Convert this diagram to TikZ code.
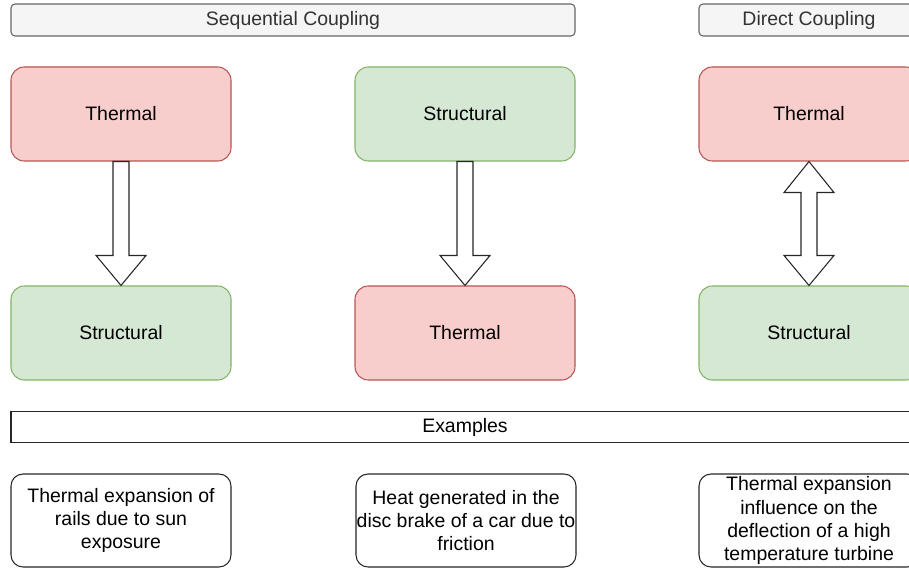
\documentclass[tikz,border=0pt]{standalone}
\usepackage{fontspec}
\setmainfont{Liberation Sans}
\usetikzlibrary{calc}
\definecolor{redfill}{HTML}{F8CECC}
\definecolor{redline}{HTML}{B85450}
\definecolor{greenfill}{HTML}{D5E8D4}
\definecolor{greenline}{HTML}{82B366}
\definecolor{greyfill}{HTML}{F5F5F5}
\definecolor{greyline}{HTML}{666666}
\definecolor{greytext}{HTML}{333333}
\begin{document}
\begin{tikzpicture}[x=0.75pt,y=-0.75pt,
  every node/.style={font=\fontsize{14.6}{17.3}\selectfont, inner sep=0pt, align=center},
  header/.style={draw=greyline, fill=greyfill, text=greytext, rounded corners=3pt,
    line width=0.8pt, minimum width=#1, minimum height=24pt},
  thermalbox/.style={draw=redline, fill=redfill, rounded corners=10pt, line width=0.8pt,
    minimum width=165pt, minimum height=70.5pt},
  structbox/.style={draw=greenline, fill=greenfill, rounded corners=10pt, line width=0.8pt,
    minimum width=165pt, minimum height=70.5pt},
  examplebox/.style={draw=black!85, fill=white, rounded corners=9pt, line width=0.8pt,
    minimum width=165pt, minimum height=69.75pt},
  blockarrow/.style={draw=black!85, fill=white, line width=0.8pt, line join=miter}]
\useasboundingbox (0,0) rectangle (909,570);

% column headers
\node[header=423pt] (seq) at (293,20) {Sequential Coupling};
\node[header=165pt] (dir) at (809,20) {Direct Coupling};

% physics boxes
\node[thermalbox] (t1) at (121,114) {Thermal};
\node[structbox]  (s1) at (121,333) {Structural};
\node[structbox]  (s2) at (465,114) {Structural};
\node[thermalbox] (t2) at (465,333) {Thermal};
\node[thermalbox] (t3) at (809,114) {Thermal};
\node[structbox]  (s3) at (809,333) {Structural};

% one-way block arrows
\draw[blockarrow] ($(t1.south)+(-8,0)$) -- ($(s1.north)+(-8,-30)$) -- ($(s1.north)+(-25,-30)$)
  -- (s1.north) -- ($(s1.north)+(25,-30)$) -- ($(s1.north)+(8,-30)$) -- ($(t1.south)+(8,0)$) -- cycle;
\draw[blockarrow] ($(s2.south)+(-8,0)$) -- ($(t2.north)+(-8,-30)$) -- ($(t2.north)+(-25,-30)$)
  -- (t2.north) -- ($(t2.north)+(25,-30)$) -- ($(t2.north)+(8,-30)$) -- ($(s2.south)+(8,0)$) -- cycle;

% two-way block arrow
\draw[blockarrow] (t3.south) -- ($(t3.south)+(25,31)$) -- ($(t3.south)+(8,31)$)
  -- ($(s3.north)+(8,-30)$) -- ($(s3.north)+(25,-30)$) -- (s3.north)
  -- ($(s3.north)+(-25,-30)$) -- ($(s3.north)+(-8,-30)$)
  -- ($(t3.south)+(-8,31)$) -- ($(t3.south)+(-25,31)$) -- cycle;

% examples
\node[draw=black!85, fill=white, line width=0.8pt, minimum width=681pt, minimum height=23.25pt]
  (ex) at (465,427) {Examples};
\node[examplebox] (e1) at (121,520.5) {Thermal expansion of\\rails due to sun\\exposure};
\node[examplebox] (e2) at (466,520.5) {Heat generated in the\\disc brake of a car due to\\friction};
\node[examplebox] (e3) at (809,520.5) {Thermal expansion\\influence on the\\deflection of a high\\temperature turbine};
\end{tikzpicture}
\end{document}
